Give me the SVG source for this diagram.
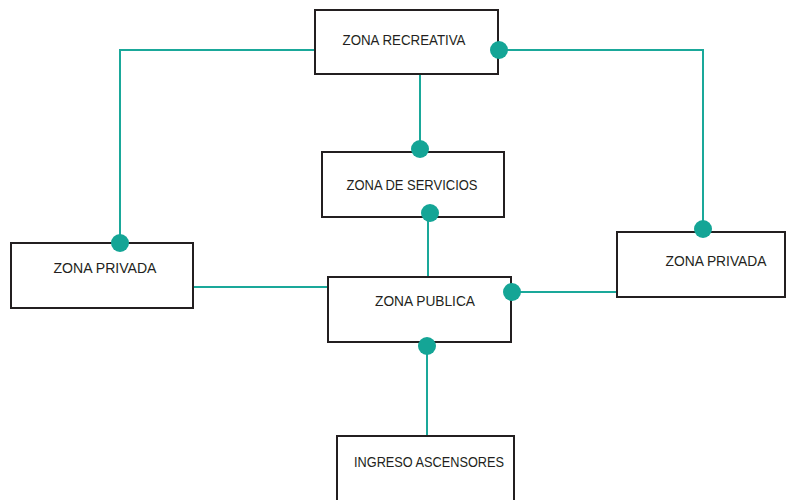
<svg xmlns="http://www.w3.org/2000/svg" width="790" height="500" viewBox="0 0 790 500">
<style>
.box{fill:#fff;stroke:#231f20;stroke-width:2}
.lbl{font-family:"Liberation Sans",Arial,sans-serif;font-size:14px;fill:#231f20;text-anchor:middle;dominant-baseline:central}
.ln{fill:none;stroke:#1aa89a;stroke-width:2}
.dot{fill:#14a596}
</style>
<rect width="790" height="500" fill="#fff"/>
<g id="connectors">
<polyline class="ln" points="315,50 120,50 120,243"/>
<polyline class="ln" points="499,50 703,50 703,232"/>
<line class="ln" x1="420" y1="74" x2="420" y2="152"/>
<line class="ln" x1="428" y1="211" x2="428" y2="277"/>
<line class="ln" x1="193" y1="287" x2="328" y2="287"/>
<line class="ln" x1="511" y1="292" x2="617" y2="292"/>
<line class="ln" x1="427" y1="346" x2="427" y2="436"/>
</g>
<g id="zona-recreativa">
<rect class="box" x="315" y="10" width="183" height="64"/>
<text class="lbl" x="404" y="40" textLength="123" lengthAdjust="spacingAndGlyphs">ZONA RECREATIVA</text>
</g>
<g id="zona-servicios">
<rect class="box" x="322" y="152" width="182" height="65"/>
<text class="lbl" x="412" y="185" textLength="131" lengthAdjust="spacingAndGlyphs">ZONA DE SERVICIOS</text>
</g>
<g id="zona-privada-izq">
<rect class="box" x="11" y="243" width="182" height="65"/>
<text class="lbl" x="105" y="268" textLength="103" lengthAdjust="spacingAndGlyphs">ZONA PRIVADA</text>
</g>
<g id="zona-privada-der">
<rect class="box" x="617" y="232" width="168" height="65"/>
<text class="lbl" x="716" y="261" textLength="101" lengthAdjust="spacingAndGlyphs">ZONA PRIVADA</text>
</g>
<g id="zona-publica">
<rect class="box" x="328" y="277" width="183" height="65"/>
<text class="lbl" x="425" y="301" textLength="100" lengthAdjust="spacingAndGlyphs">ZONA PUBLICA</text>
</g>
<g id="ingreso-ascensores">
<rect class="box" x="337" y="436" width="177" height="70"/>
<text class="lbl" x="429" y="462" textLength="150" lengthAdjust="spacingAndGlyphs">INGRESO ASCENSORES</text>
</g>
<g id="dots">
<circle class="dot" cx="499" cy="50" r="9"/>
<circle class="dot" cx="420" cy="149" r="9"/>
<circle class="dot" cx="430" cy="213" r="9"/>
<circle class="dot" cx="120" cy="243" r="9"/>
<circle class="dot" cx="703" cy="229" r="9"/>
<circle class="dot" cx="512" cy="292" r="9"/>
<circle class="dot" cx="427" cy="346" r="9"/>
</g>
</svg>
